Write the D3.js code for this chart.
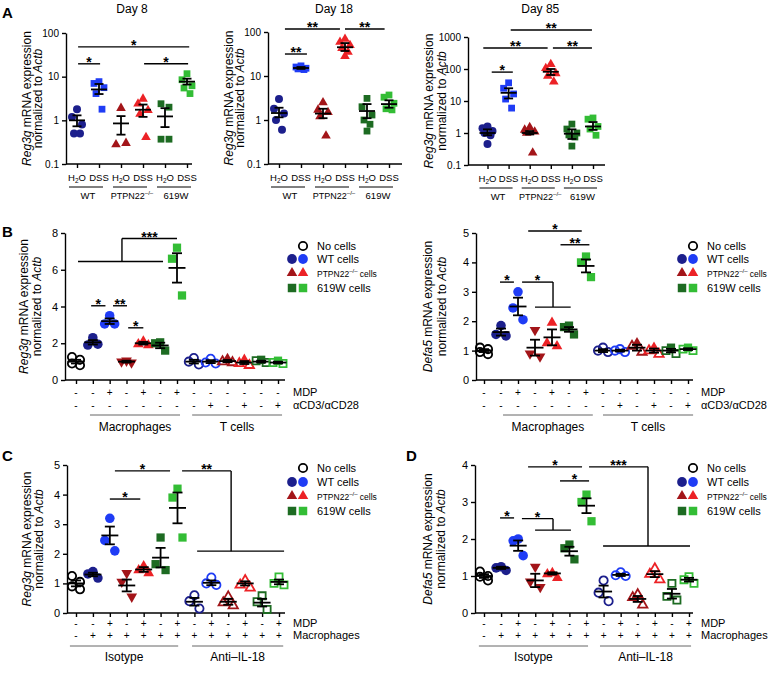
<!DOCTYPE html>
<html><head><meta charset="utf-8">
<script src="https://cdn.jsdelivr.net/npm/d3@7/dist/d3.min.js"></script>
<style>body{margin:0;background:#fff} text{font-family:"Liberation Sans",Arial,Helvetica,sans-serif;fill:#000}</style>
</head><body><svg id="c" width="768" height="676"></svg>
<script>
const NAVY="#1c1f8c", BLUE="#1f3cf5", DRED="#a31519", RED="#ec2226", DGREEN="#1d6b22", GREEN="#33bd35", BLACK="#000";

// ---------- Panel A data ----------
const aTickLabels=["H2O","DSS","H2O","DSS","H2O","DSS"];
const aGroups=["WT","PTPN22","619W"];
const aShapes=["circle","square","tri","tri","square","square"];
const aColors=[NAVY,BLUE,DRED,RED,DGREEN,GREEN];

const day8Points=[[1.8,1.2,0.8,0.5,0.5],[7.7,7.0,5.6,4.1,1.8],[1.9,0.28,0.3],[3.1,2.4,1.7,1.4,0.41],[2.4,2.0,0.37,0.37],[11.7,8.5,6.2,5.5,4.1]];
const day8Mean=[1.0,5.1,0.85,1.75,1.23,7.7];
const day8Lo=[0.73,4.0,0.47,1.2,0.7,6.6];
const day8Hi=[1.3,6.8,1.25,2.3,1.9,9.0];
const day8Brackets=[{x1:0.05,x2:5.1,y:48,label:"*"},{x1:0.05,x2:1.05,y:19.7,label:"*"},{x1:3.05,x2:5.05,y:19.7,label:"*"}];

const day18Points=[[3.0,1.8,1.4,1.0,0.6],[17,16,15,14.5,14],[2.5,1.7,1.5,1.2,0.44],[69,59,50,43,35,28],[3.1,2.0,1.3,1.0,0.8,0.56],[3.7,3.3,2.4,1.8,1.7]];
const day18Mean=[1.44,15.2,1.4,45,1.6,2.3];
const day18Lo=[1.15,14.5,1.1,37,1.1,1.9];
const day18Hi=[1.9,16,1.8,56,2.3,2.8];
const day18Brackets=[{x1:0.27,x2:1.27,y:31.6,label:"**"},{x1:0.27,x2:2.77,y:117,label:"**"},{x1:3.0,x2:4.8,y:117,label:"**"}];

const day85Points=[[1.6,1.4,1.15,1.0,0.85,0.45],[37,25,16.6,11.5,6],[1.5,1.25,1.1,1.0,0.24],[140,105,73,60,40],[1.9,1.33,1.0,0.87,0.75,0.39],[2.95,2.7,1.6,1.33,0.85]];
const day85Mean=[1.0,18,1.0,82,0.95,1.6];
const day85Lo=[0.85,12,0.9,65,0.65,1.25];
const day85Hi=[1.3,25,1.15,100,1.3,2.2];
const day85Brackets=[{x1:0.2,x2:1.2,y:80,label:"*"},{x1:-0.2,x2:2.85,y:453,label:"**"},{x1:3.1,x2:4.95,y:453,label:"**"},{x1:1.1,x2:4.95,y:1660,label:"**"}];

// ---------- Panels B-D data ----------
const bShapes=["circle","circle","circle","tridown","tri","square","square","circle","circle","tri","tri","square","square"];
const bColors=[BLACK,NAVY,BLUE,DRED,RED,DGREEN,GREEN,NAVY,BLUE,DRED,RED,DGREEN,GREEN];
const bFills=["open","solid","solid","solid","solid","solid","solid","open","open","mixed","mixed","mixed","mixed"];
const cdFills=["open","solid","solid","solid","solid","solid","solid","open","open","open","open","open","open"];
const bMDP=["-","-","+","-","+","-","+","-","-","-","-","-","-"];
const bCD3=["-","-","-","-","-","-","-","-","+","-","+","-","+"];
const cdMDP=["-","-","+","-","+","-","+","-","+","-","+","-","+"];
const cdMac=["-","+","+","+","+","+","+","+","+","+","+","+","+"];
const legendLabels=["No cells","WT cells","PTPN22","619W cells"];

const bRegPoints=[[1.25,1.1,0.9,0.8],[2.3,1.9,1.95],[3.5,3.05,3.05],[1.05,1.0,0.95],[2.1,1.95,1.9],[2.05,2.0,1.6],[7.2,6.6,4.6],[1.2,1.0,0.85],[1.15,0.95,0.9],[1.15,1.0,0.95],[1.1,0.9,0.8],[1.1,1.05,0.95],[1.05,0.95,0.9]];
const bRegMean=[1.0,2.05,3.2,1.0,2.0,1.88,6.1,1.0,1.0,1.03,0.95,1.0,0.95];
const bRegSem=[0.1,0.12,0.15,0.05,0.07,0.15,0.8,0.1,0.08,0.06,0.08,0.05,0.05];
const bRegBrackets=[{x1:0.9,x2:1.75,y:4.04,label:"*"},{x1:2.2,x2:3.03,y:4.04,label:"**"},{x1:3.1,x2:4.0,y:2.84,label:"*"},
  {x1:2.73,x2:6.0,y:7.7,label:"***",drop:{x:2.73,y2:6.45,x3:0.12,x4:5.17}}];

const bDefPoints=[[1.1,1.05,0.95,0.88],[1.85,1.55,1.5],[3.0,2.45,2.05],[1.7,0.9,0.8],[1.95,1.25,1.15],[1.85,1.8,1.55],[4.2,4.0,3.5],[1.1,1.0,0.95],[1.05,1.0,0.95],[1.25,1.15,0.95],[1.1,1.0,0.88],[1.1,1.0,0.9],[1.1,1.05,1.0]];
const bDefMean=[1.0,1.63,2.5,1.1,1.45,1.72,3.88,1.0,1.0,1.1,1.0,1.0,1.05];
const bDefSem=[0.05,0.12,0.3,0.27,0.27,0.08,0.22,0.05,0.03,0.1,0.07,0.06,0.03];
const bDefBrackets=[{x1:0.94,x2:1.76,y:3.33,label:"*"},{x1:2.24,x2:4.06,y:3.33,label:"*",drop:{x:4.06,y2:2.48,x3:3.0,x4:5.1}},
  {x1:4.5,x2:6.2,y:4.6,label:"**"},{x1:2.6,x2:5.75,y:5.07,label:"*"}];

const cPoints=[[1.25,1.05,0.9,0.8],[1.4,1.32,1.18],[3.2,2.45,2.1],[1.35,1.05,0.55],[1.58,1.45,1.35],[2.55,1.65,1.45],[4.2,3.9,2.55],[0.6,0.4,0.15],[1.2,1.0,0.95],[0.55,0.35,0.25],[1.1,0.95,0.85],[0.58,0.38,0.12],[1.22,1.0,0.95]];
const cMean=[1.0,1.3,2.62,0.93,1.47,1.87,3.55,0.38,1.02,0.38,1.0,0.35,1.05];
const cSem=[0.1,0.06,0.3,0.2,0.08,0.33,0.52,0.13,0.08,0.1,0.07,0.13,0.08];
const cBrackets=[{x1:2.0,x2:3.8,y:3.85,label:"*"},{x1:2.3,x2:5.56,y:4.8,label:"*"},
  {x1:6.27,x2:9.17,y:4.8,label:"**",drop:{x:9.17,y2:2.09,x3:7.16,x4:12.3}}];

const dPoints=[[1.12,1.0,0.98,0.88],[1.25,1.22,1.15],[2.0,1.95,1.55],[1.25,0.85,0.7],[1.08,1.05,0.95],[1.85,1.75,1.45],[3.2,3.0,2.48],[0.88,0.55,0.32],[1.1,1.02,1.0],[0.5,0.42,0.22],[1.2,1.05,0.9],[0.8,0.45,0.35],[0.98,0.9,0.8]];
const dMean=[1.0,1.22,1.82,0.88,1.07,1.67,2.9,0.58,1.03,0.38,1.05,0.52,0.9];
const dSem=[0.05,0.03,0.14,0.18,0.03,0.12,0.2,0.16,0.03,0.08,0.08,0.13,0.05];
const dBrackets=[{x1:0.94,x2:1.76,y:2.57,label:"*"},{x1:2.22,x2:4.04,y:2.55,label:"*",drop:{x:4.04,y2:2.24,x3:2.99,x4:5.09}},
  {x1:4.45,x2:6.15,y:3.57,label:"*"},{x1:2.58,x2:5.74,y:3.95,label:"*"},
  {x1:6.15,x2:9.6,y:3.95,label:"***",drop:{x:9.6,y2:1.81,x3:6.97,x4:12.06}}];

// ---------- helpers ----------
const svg=d3.select("#c");
const jitter={1:[0],2:[-3,3],3:[0,-5,5],4:[-4,4,-4,4],5:[0,-5,5,-3,3],6:[0,-5,5,-3,3,0]};

function symPath(shape,size){
  const t=shape==="circle"?d3.symbolCircle:shape==="square"?d3.symbolSquare:d3.symbolTriangle;
  return d3.symbol().type(t).size(size)();
}
function marker(g,shape,cx,cy,size,color,filled){
  const p=g.append("path").attr("d",symPath(shape,size))
    .attr("transform",`translate(${cx},${cy})`+(shape==="tridown"?" rotate(180)":""));
  if(filled) p.attr("fill",color).attr("stroke","none");
  else p.attr("fill","none").attr("stroke",color).attr("stroke-width",1.8);
}
function yLabel(g,x1,x2,yc,gene){
  const l1=g.append("text").attr("transform",`translate(${x1},${yc}) rotate(-90)`).attr("text-anchor","middle").attr("font-size",12);
  l1.append("tspan").attr("font-style","italic").text(gene);
  l1.append("tspan").text(" mRNA expression");
  const l2=g.append("text").attr("transform",`translate(${x2},${yc}) rotate(-90)`).attr("text-anchor","middle").attr("font-size",12);
  l2.append("tspan").text("normalized to ");
  l2.append("tspan").attr("font-style","italic").text("Actb");
}
function styleAxis(sel,fs){
  sel.selectAll("path,line").attr("stroke","#000").attr("stroke-width",1.4);
  sel.selectAll("text").attr("font-size",fs).attr("font-family",'"Liberation Sans",Arial,sans-serif');
}
function errBar(g,cx,ylo,yhi,ym,capW,meanW){
  const ln=(a,b,c,d)=>g.append("line").attr("x1",a).attr("x2",b).attr("y1",c).attr("y2",d).attr("stroke","#000").attr("stroke-width",1.8);
  ln(cx,cx,ylo,yhi);
  ln(cx-capW/2,cx+capW/2,ylo,ylo);
  ln(cx-capW/2,cx+capW/2,yhi,yhi);
  ln(cx-meanW/2,cx+meanW/2,ym,ym);
}
function brackets(g,x,y,list){
  list.forEach(b=>{
    const ln=(a,b2,c,d)=>g.append("line").attr("x1",a).attr("x2",b2).attr("y1",c).attr("y2",d).attr("stroke","#000").attr("stroke-width",1.4);
    ln(x(b.x1),x(b.x2),y(b.y),y(b.y));
    if(b.drop){
      ln(x(b.drop.x),x(b.drop.x),y(b.y),y(b.drop.y2));
      ln(x(b.drop.x3),x(b.drop.x4),y(b.drop.y2),y(b.drop.y2));
    }
    g.append("text").attr("x",(x(b.x1)+x(b.x2))/2).attr("y",y(b.y)+3).attr("text-anchor","middle")
      .attr("font-size",14).attr("font-weight","bold").text(b.label);
  });
}
function h2o(t){ t.append("tspan").text("H"); t.append("tspan").attr("font-size",6.5).attr("dy",2).text("2"); t.append("tspan").attr("dy",-2).text("O"); }
function ptpn(t,fs,suffix){ t.append("tspan").text("PTPN22"); t.append("tspan").attr("font-size",fs).attr("dy",-4).text("–/–"); if(suffix) t.append("tspan").attr("dy",4).text(suffix); }

// ---------- log panels (A) ----------
function logPanel(c){
  const g=svg.append("g");
  const x=d3.scaleLinear().domain([0,5]).range([c.cat0,c.cat5]);
  const y=d3.scaleLog().domain([0.1,c.top]).range([c.yBot,c.yTop]);
  const ticks=c.top===1000?[0.1,1,10,100,1000]:[0.1,1,10,100];
  const ya=g.append("g").attr("transform",`translate(${c.axisX},0)`)
    .call(d3.axisLeft(y).tickValues(ticks).tickFormat(d=>d<1?"0.1":String(d)).tickSize(4).tickSizeOuter(0));
  styleAxis(ya,10);
  g.append("line").attr("x1",c.axisX).attr("x2",c.axisRight).attr("y1",c.yBot).attr("y2",c.yBot).attr("stroke","#000").attr("stroke-width",1.4);
  const xa=g.append("g").attr("transform",`translate(0,${c.yBot})`)
    .call(d3.axisBottom(x).tickValues(d3.range(6)).tickFormat("").tickSize(4));
  xa.select(".domain").remove(); styleAxis(xa,10);
  aTickLabels.forEach((t,i)=>{
    const tx=g.append("text").attr("x",x(i)).attr("y",c.yBot+17).attr("text-anchor","middle").attr("font-size",9.5);
    if(t==="H2O") h2o(tx); else tx.text(t);
  });
  aGroups.forEach((gn,k)=>{
    g.append("line").attr("x1",x(2*k)-8).attr("x2",x(2*k+1)+4).attr("y1",c.yBot+23).attr("y2",c.yBot+23).attr("stroke","#000").attr("stroke-width",1);
    const tx=g.append("text").attr("x",(x(2*k)+x(2*k+1))/2).attr("y",c.yBot+35).attr("text-anchor","middle").attr("font-size",gn==="PTPN22"?9:9.5);
    if(gn==="PTPN22") ptpn(tx,6); else tx.text(gn);
  });
  c.points.forEach((arr,i)=>{
    const jj=jitter[arr.length];
    arr.forEach((v,k)=>marker(g,aShapes[i],x(i)+jj[k],y(v),aShapes[i]==="circle"?50:aShapes[i]==="square"?46:40,aColors[i],true));
    errBar(g,x(i),y(c.lo[i]),y(c.hi[i]),y(c.mean[i]),9,16);
  });
  brackets(g,x,y,c.brackets);
  g.append("text").attr("x",(c.cat0+c.cat5)/2).attr("y",13).attr("text-anchor","middle").attr("font-size",12).text(c.title);
  yLabel(g,c.axisX+c.lab1,c.axisX+c.lab2,(c.yBot+c.yTop)/2,"Reg3g");
}
logPanel({axisX:66,axisRight:192,cat0:77,cat5:187,yBot:164,yTop:33,top:100,points:day8Points,mean:day8Mean,lo:day8Lo,hi:day8Hi,brackets:day8Brackets,title:"Day 8",lab1:-35,lab2:-24});
logPanel({axisX:268,axisRight:402,cat0:279,cat5:389,yBot:164,yTop:32,top:100,points:day18Points,mean:day18Mean,lo:day18Lo,hi:day18Hi,brackets:day18Brackets,title:"Day 18",lab1:-35,lab2:-24});
logPanel({axisX:468,axisRight:605,cat0:487.5,cat5:593,yBot:165,yTop:37,top:1000,points:day85Points,mean:day85Mean,lo:day85Lo,hi:day85Hi,brackets:day85Brackets,title:"Day 85",lab1:-35,lab2:-22});

// ---------- linear panels ----------
function linPanel(c){
  const g=svg.append("g");
  const x=d3.scaleLinear().domain([0,12]).range([c.cat0,c.cat12]);
  const y=d3.scaleLinear().domain([0,c.top]).range([c.y0,c.yTop]);
  const ya=g.append("g").attr("transform",`translate(${c.axisX},0)`)
    .call(d3.axisLeft(y).tickValues(d3.range(0,c.top+0.01,c.step)).tickFormat(d3.format("d")).tickSize(4).tickSizeOuter(0));
  styleAxis(ya,11);
  g.append("line").attr("x1",c.axisX).attr("x2",c.axisRight).attr("y1",c.y0).attr("y2",c.y0).attr("stroke","#000").attr("stroke-width",1.4);
  const xa=g.append("g").attr("transform",`translate(0,${c.y0})`)
    .call(d3.axisBottom(x).tickValues(d3.range(13)).tickFormat("").tickSize(4));
  xa.select(".domain").remove(); styleAxis(xa,10);
  c.rows.forEach((row,r)=>{
    row.forEach((s,i)=>g.append("text").attr("x",x(i)).attr("y",c.y0+c.rowY[r]+4).attr("text-anchor","middle").attr("font-size",10).text(s));
    g.append("text").attr("x",c.axisRight+8).attr("y",c.y0+c.rowY[r]+4).attr("font-size",11).text(c.rowLabels[r]);
  });
  c.groups.forEach(gr=>{
    g.append("line").attr("x1",x(gr[0])).attr("x2",x(gr[1])).attr("y1",c.y0+c.lineY).attr("y2",c.y0+c.lineY).attr("stroke","#666").attr("stroke-width",1);
    g.append("text").attr("x",(x(gr[0])+x(gr[1]))/2).attr("y",c.y0+c.lineY+c.labY).attr("text-anchor","middle").attr("font-size",12).text(gr[2]);
  });
  c.points.forEach((arr,i)=>{
    const jj=jitter[arr.length];
    const sz=bShapes[i]==="circle"?72:bShapes[i]==="square"?68:50;
    arr.forEach((v,k)=>{
      const f=c.fills[i]==="solid"||(c.fills[i]==="mixed"&&k===0);
      marker(g,bShapes[i],x(i)+jj[k],y(v),f?sz:sz*0.75,bColors[i],f);
    });
    errBar(g,x(i),y(c.mean[i]-c.sem[i]),y(c.mean[i]+c.sem[i]),y(c.mean[i]),10,17);
  });
  brackets(g,x,y,c.brackets);
  yLabel(g,c.axisX+c.lab1,c.axisX+c.lab2,(c.y0+c.yTop)/2,c.gene);
  // legend
  const L=c.legend;
  legendLabels.forEach((lab,r)=>{
    const yy=L.rows[r];
    if(r===0) marker(g,"circle",L.m2,yy,55,BLACK,false);
    else {
      const sh=["circle","tri","square"][r-1], cols=[[NAVY,BLUE],[DRED,RED],[DGREEN,GREEN]][r-1];
      const sz=sh==="circle"?75:sh==="square"?72:48;
      marker(g,sh,L.m1,yy,sz,cols[0],true); marker(g,sh,L.m2,yy,sz,cols[1],true);
    }
    const t=g.append("text").attr("x",L.tx).attr("y",yy+4).attr("font-size",lab==="PTPN22"?8.5:11);
    if(lab==="PTPN22") ptpn(t,6," cells"); else t.text(lab);
  });
}
linPanel({axisX:65,axisRight:285,cat0:76,cat12:278,y0:380,yTop:233,top:8,step:2,points:bRegPoints,mean:bRegMean,sem:bRegSem,fills:bFills,
  brackets:bRegBrackets,gene:"Reg3g",lab1:-37,lab2:-24,rows:[bMDP,bCD3],rowLabels:["MDP","αCD3/αCD28"],rowY:[12,25],lineY:35,labY:16,
  groups:[[0.83,6.18,"Macrophages"],[6.9,12.24,"T cells"]],legend:{m1:292,m2:303,tx:317,rows:[246,259,273,288]}});
linPanel({axisX:476,axisRight:693,cat0:484,cat12:688,y0:380,yTop:233,top:5,step:1,points:bDefPoints,mean:bDefMean,sem:bDefSem,fills:bFills,
  brackets:bDefBrackets,gene:"Defa5",lab1:-44,lab2:-30,rows:[bMDP,bCD3],rowLabels:["MDP","αCD3/αCD28"],rowY:[12,25],lineY:35,labY:16,
  groups:[[1.12,6.4,"Macrophages"],[7.0,12.3,"T cells"]],legend:{m1:682,m2:693,tx:707,rows:[246,259,273,288]}});
linPanel({axisX:67,axisRight:285,cat0:76,cat12:279,y0:613,yTop:465,top:5,step:1,points:cPoints,mean:cMean,sem:cSem,fills:cdFills,
  brackets:cBrackets,gene:"Reg3g",lab1:-36,lab2:-24,rows:[cdMDP,cdMac],rowLabels:["MDP","Macrophages"],rowY:[10,22],lineY:33,labY:15,
  groups:[[-0.36,6.04,"Isotype"],[6.86,12.25,"Anti–IL-18"]],legend:{m1:292,m2:303,tx:317,rows:[468,482,496,511]}});
linPanel({axisX:475,axisRight:693,cat0:484,cat12:689,y0:613,yTop:465,top:4,step:1,points:dPoints,mean:dMean,sem:dSem,fills:cdFills,
  brackets:dBrackets,gene:"Defa5",lab1:-43,lab2:-30,rows:[cdMDP,cdMac],rowLabels:["MDP","Macrophages"],rowY:[10,22],lineY:33,labY:15,
  groups:[[-0.3,6.09,"Isotype"],[6.79,12.12,"Anti–IL-18"]],legend:{m1:682,m2:693,tx:707,rows:[468,482,496,511]}});

// panel letters
[["A",2,18],["B",2,237],["C",2,461],["D",406,461]].forEach(l=>svg.append("text").attr("x",l[1]).attr("y",l[2]).attr("font-size",15).attr("font-weight","bold").text(l[0]));
</script></body></html>
